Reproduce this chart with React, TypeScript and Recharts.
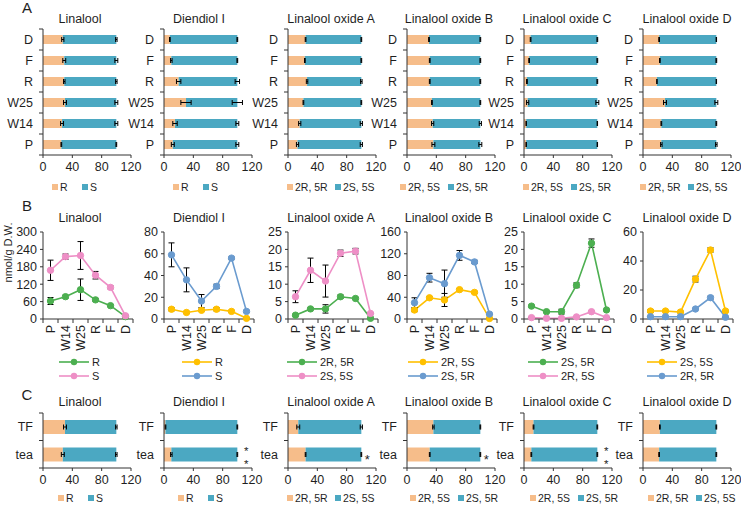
import React from 'react';
import { BarChart, Bar, XAxis, YAxis, ErrorBar, Legend, LineChart, Line, LabelList } from 'recharts';

const FONT = '"Liberation Sans", Arial, Helvetica, sans-serif';
const INK = '#1f1f1f';
const AXIS_C = '#333333';
const PEACH = '#F6BD8A';
const TEAL = '#4BA8C2';
const GREEN = '#4CAF50';
const PINK = '#EE8FC6';
const BLUE = '#6A9BCF';
const YELLOW = '#FFC000';

// ---------------- data ----------------
const compounds = ['Linalool', 'Diendiol I', 'Linalool oxide A', 'Linalool oxide B', 'Linalool oxide C', 'Linalool oxide D'];
const barLegendNames = [['R', 'S'], ['R', 'S'], ['2R, 5R', '2S, 5S'], ['2R, 5S', '2S, 5R'], ['2R, 5S', '2S, 5R'], ['2R, 5R', '2S, 5S']];
const pctTicks = [0, 40, 80, 120];

// Panel A (top to bottom)
const stagesA = ['D', 'F', 'R', 'W25', 'W14', 'P'];
const linA_R = [27, 29, 29, 30, 26, 25];
const linA_S = [73, 71, 71, 70, 74, 75];
const linA_Re = [1.5, 2, 1, 2, 2, 0.5];
const linA_Se = [1, 2, 1, 2, 2, 0.5];
const dieA_R = [8, 10, 20, 30, 15, 12];
const dieA_S = [92, 90, 80, 70, 85, 88];
const dieA_Re = [0.5, 1, 3, 7, 3, 2];
const dieA_Se = [0.5, 0.5, 3, 7, 2, 2];
const loaA_R = [24, 23, 26, 21, 16, 13];
const loaA_S = [76, 77, 74, 79, 84, 87];
const loaA_Re = [0.5, 0.5, 1, 0.5, 1.5, 1.5];
const loaA_Se = [0.5, 0.5, 1, 0.5, 1.5, 1.5];
const lobA_R = [30, 31, 31, 34, 35, 36];
const lobA_S = [70, 69, 69, 66, 65, 64];
const lobA_Re = [0.5, 0.5, 0.5, 0.5, 1.5, 2];
const lobA_Se = [0.5, 0.5, 0.5, 0.5, 1.5, 2];
const locA_R = [9, 7, 4, 5, 3, 3];
const locA_S = [91, 93, 96, 95, 97, 97];
const locA_Re = [0.5, 0.5, 0.5, 1.5, 0.3, 0.3];
const locA_Se = [0.5, 0.5, 0.5, 2, 0.3, 0.3];
const lodA_R = [22, 23, 19, 30, 25, 25];
const lodA_S = [78, 77, 81, 70, 75, 75];
const lodA_Re = [0.5, 0.5, 0.3, 2, 0.5, 1];
const lodA_Se = [0.3, 0.5, 0.3, 2, 0.5, 1];

// Panel B (nmol/g D.W.)
const stagesB = ['P', 'W14', 'W25', 'R', 'F', 'D'];
const lineLegendNames = [['R', 'S'], ['R', 'S'], ['2R, 5R', '2S, 5S'], ['2R, 5S', '2S, 5R'], ['2S, 5R', '2R, 5S'], ['2S, 5S', '2R, 5R']];
const yTicksB = [[0, 60, 120, 180, 240, 300], [0, 20, 40, 60, 80], [0, 5, 10, 15, 20, 25], [0, 40, 80, 120, 160], [0, 5, 10, 15, 20, 25], [0, 20, 40, 60]];
const linB_1 = [62, 77, 101, 66, 46, 8];
const linB_1e = [12, 5, 37, 5, 3, 1];
const linB_2 = [168, 215, 219, 151, 109, 11];
const linB_2e = [35, 9, 48, 13, 5, 1];
const dieB_1 = [9, 6, 8, 9, 7, 0.6];
const dieB_1e = [1.5, 1, 1, 1.5, 1, 0.5];
const dieB_2 = [59, 36, 16.5, 30, 56, 7];
const dieB_2e = [11, 11, 6, 2, 1, 1];
const loaB_1 = [1.1, 2.9, 2.9, 6.4, 5.9, 0.2];
const loaB_1e = [0.3, 0.3, 1.2, 0.5, 0.3, 0.1];
const loaB_2 = [6.4, 14, 10.9, 18.9, 19.5, 1.6];
const loaB_2e = [1.7, 3.5, 4.6, 0.9, 0.8, 0.2];
const lobB_1 = [16.5, 39, 35, 54, 49, 1];
const lobB_1e = [3, 2, 12, 2, 2, 0.5];
const lobB_2 = [30, 76, 65, 117, 105, 9];
const lobB_2e = [9, 8, 25, 9, 3, 1];
const locB_1 = [3.7, 2.1, 2.1, 9.7, 21.8, 2.6];
const locB_1e = [0.3, 0.2, 0.7, 0.7, 1.2, 0.2];
const locB_2 = [0.4, 0.2, 0.2, 0.6, 2.1, 0.4];
const locB_2e = [0.1, 0.1, 0.1, 0.1, 0.2, 0.1];
const lodB_1 = [5.5, 5.5, 4.8, 27.5, 47.6, 5.5];
const lodB_1e = [1, 0.5, 0.5, 2, 1.5, 0.5];
const lodB_2 = [1.6, 1.6, 1.6, 6.9, 14.7, 1.2];
const lodB_2e = [0.3, 0.3, 0.3, 0.5, 1, 0.2];

// Panel C
const samplesC = ['TF', 'tea'];
const linC_R = [30, 27];
const linC_S = [70, 73];
const linC_Re = [2, 2];
const linC_Se = [1, 1];
const dieC_R = [2, 10];
const dieC_S = [98, 90];
const dieC_Re = [0.5, 1];
const dieC_Se = [0.5, 0.5];
const loaC_R = [14, 24];
const loaC_S = [86, 76];
const loaC_Re = [2, 0.5];
const loaC_Se = [1.5, 0.5];
const lobC_R = [36, 31];
const lobC_S = [64, 69];
const lobC_Re = [1, 0.5];
const lobC_Se = [0.5, 0.5];
const locC_R = [13, 10];
const locC_S = [87, 90];
const locC_Re = [0.5, 0.5];
const locC_Se = [0.5, 0.5];
const lodC_R = [23, 22];
const lodC_S = [77, 78];
const lodC_Re = [0.5, 0.5];
const lodC_Se = [0.5, 0.5];
const sigC = [['', ''], ['', '**'], ['', '*'], ['', '*'], ['', '**'], ['', '']];

const A_R = [linA_R, dieA_R, loaA_R, lobA_R, locA_R, lodA_R];
const A_S = [linA_S, dieA_S, loaA_S, lobA_S, locA_S, lodA_S];
const A_Re = [linA_Re, dieA_Re, loaA_Re, lobA_Re, locA_Re, lodA_Re];
const A_Se = [linA_Se, dieA_Se, loaA_Se, lobA_Se, locA_Se, lodA_Se];
const B_1 = [linB_1, dieB_1, loaB_1, lobB_1, locB_1, lodB_1];
const B_1e = [linB_1e, dieB_1e, loaB_1e, lobB_1e, locB_1e, lodB_1e];
const B_2 = [linB_2, dieB_2, loaB_2, lobB_2, locB_2, lodB_2];
const B_2e = [linB_2e, dieB_2e, loaB_2e, lobB_2e, locB_2e, lodB_2e];
const C_R = [linC_R, dieC_R, loaC_R, lobC_R, locC_R, lodC_R];
const C_S = [linC_S, dieC_S, loaC_S, lobC_S, locC_S, lodC_S];
const C_Re = [linC_Re, dieC_Re, loaC_Re, lobC_Re, locC_Re, lodC_Re];
const C_Se = [linC_Se, dieC_Se, loaC_Se, lobC_Se, locC_Se, lodC_Se];
const lineColors = [[GREEN, PINK], [YELLOW, BLUE], [GREEN, PINK], [YELLOW, BLUE], [GREEN, PINK], [YELLOW, BLUE]];

// ---------------- layout ----------------
const AXX = [43, 164, 288, 407, 524, 643];
const TITLE_CX = [80, 199, 331, 449, 567, 687];
const LEG_A_X = [52, 173, 287, 400, 523, 640];
const LEG_B_X = [59, 182, 287, 408, 528, 647];
const LEG_C_X = [58, 178, 287, 410, 530, 648];
const YW = 40;
const PW = 88;
const PWB = 90;
const CAT_M = 10;

const tickFont = { fontSize: 12.5, fill: INK, fontFamily: FONT };

const CatTickY = (props: any) => {
  const { x, y, payload, index, visibleTicksCount, band, margin } = props;
  const ax = x + margin;
  return (
    <g>
      <text x={x} y={y} dy="0.36em" textAnchor="end" fontSize={12.5} fill={INK} fontFamily={FONT}>{payload.value}</text>
      <line x1={ax - 4} x2={ax} y1={y - band / 2} y2={y - band / 2} stroke={AXIS_C} />
      {index === visibleTicksCount - 1 ? <line x1={ax - 4} x2={ax} y1={y + band / 2} y2={y + band / 2} stroke={AXIS_C} /> : null}
    </g>
  );
};

const CatTickX = (props: any) => {
  const { x, y, payload, index, visibleTicksCount, band, margin } = props;
  const ay = y - margin;
  return (
    <g>
      <text x={x} y={y + 1} dy="0.36em" textAnchor="end" transform={`rotate(-90, ${x}, ${y + 1})`} fontSize={12.5} fill={INK} fontFamily={FONT}>{payload.value}</text>
      <line x1={x - band / 2} x2={x - band / 2} y1={ay} y2={ay + 4} stroke={AXIS_C} />
      {index === visibleTicksCount - 1 ? <line x1={x + band / 2} x2={x + band / 2} y1={ay} y2={ay + 4} stroke={AXIS_C} /> : null}
    </g>
  );
};

const ordered = (payload: any[], names: string[]) =>
  [...(payload || [])].sort((p, q) => names.indexOf(String(p.value)) - names.indexOf(String(q.value)));

const makeSquareLegend = (names: string[]) => (props: any) => {
  const items = ordered(props.payload, names);
  return (
    <div style={{ display: 'flex', fontFamily: FONT, fontSize: 10.5, color: INK, lineHeight: '12px', whiteSpace: 'nowrap' }}>
      {items.map((it: any) => (
        <div key={it.value} style={{ display: 'flex', alignItems: 'center', width: String(it.value).length > 1 ? 48 : 30 }}>
          <span style={{ width: 6, height: 6, background: it.color, marginRight: 2, display: 'inline-block' }} />
          <span>{it.value}</span>
        </div>
      ))}
    </div>
  );
};

const makeLineLegend = (names: string[]) => (props: any) => {
  const items = ordered(props.payload, names);
  return (
    <div style={{ fontFamily: FONT, fontSize: 11, color: INK, lineHeight: '14px', whiteSpace: 'nowrap' }}>
      {items.map((it: any) => (
        <div key={it.value} style={{ display: 'flex', alignItems: 'center', height: 14 }}>
          <svg width={30} height={8} style={{ display: 'block' }}>
            <line x1={0} x2={30} y1={4} y2={4} stroke={it.color} strokeWidth={1.6} />
            <circle cx={15} cy={4} r={3.2} fill={it.color} />
          </svg>
          <span style={{ marginLeft: 3 }}>{it.value}</span>
        </div>
      ))}
    </div>
  );
};

const SigLabel = (props: any) => {
  const { x, y, width, height, value } = props;
  if (!value) return null;
  const cy = y + height / 2;
  if (value === '**') {
    const cx = x + width + 9;
    return (
      <text x={cx} y={cy} fontFamily={FONT} fontSize={11.5} fill={INK} textAnchor="middle">
        <tspan x={cx} dy={0}>*</tspan>
        <tspan x={cx} dy={13.5}>*</tspan>
      </text>
    );
  }
  return <text x={x + width + 6} y={cy + 9} fontFamily={FONT} fontSize={13} fill={INK} textAnchor="middle">*</text>;
};

const Title = ({ cx, cy, text }: { cx: number; cy: number; text: string }) => (
  <div style={{ position: 'absolute', left: cx - 70, top: cy - 8, width: 140, textAlign: 'center', fontFamily: FONT, fontSize: 12.5, lineHeight: '16px', color: INK, whiteSpace: 'nowrap' }}>{text}</div>
);

const Letter = ({ x, y, t }: { x: number; y: number; t: string }) => (
  <div style={{ position: 'absolute', left: x - 8, top: y - 9, width: 16, textAlign: 'center', fontFamily: FONT, fontSize: 15, lineHeight: '18px', color: INK }}>{t}</div>
);

function StackedPanel({ i, cats, r, s, re, se, sig, top, plotH, bottomM, barSize, legendX, legendY }: any) {
  const data = cats.map((c: string, k: number) => ({ cat: c, r: r[k], s: s[k], re: re[k], se: se[k], sig: sig ? sig[k] : '' }));
  const left = AXX[i] - YW;
  const mt = 5;
  const height = mt + plotH + 25 + bottomM;
  const band = plotH / cats.length;
  const names = barLegendNames[i];
  return (
    <div style={{ position: 'absolute', left, top: top - mt }}>
      <BarChart width={YW + PW + 14} height={height} data={data} layout="vertical" margin={{ top: mt, right: 14, bottom: bottomM, left: 0 }} barCategoryGap={0}>
        <XAxis type="number" domain={[0, 120]} ticks={pctTicks} tick={tickFont} tickSize={3} tickMargin={4} height={25} stroke={AXIS_C} interval={0} />
        <YAxis type="category" dataKey="cat" width={YW} tickLine={false} tickSize={0} tickMargin={CAT_M} stroke={AXIS_C} interval={0}
          tick={(p: any) => <CatTickY {...p} band={band} margin={CAT_M} />} />
        <Bar dataKey="r" name={names[0]} stackId="a" fill={PEACH} barSize={barSize} isAnimationActive={false}>
          <ErrorBar dataKey="re" direction="x" width={2.5} stroke="#000" strokeWidth={1} />
        </Bar>
        <Bar dataKey="s" name={names[1]} stackId="a" fill={TEAL} barSize={barSize} isAnimationActive={false}>
          <ErrorBar dataKey="se" direction="x" width={2.5} stroke="#000" strokeWidth={1} />
          {sig ? <LabelList dataKey="sig" content={SigLabel} /> : null}
        </Bar>
        <Legend layout="horizontal" verticalAlign="middle" align="center" content={makeSquareLegend(names)}
          wrapperStyle={{ left: legendX - left, top: legendY - (top - mt), width: 'auto', height: 'auto' }} />
      </BarChart>
    </div>
  );
}

function LinePanel({ i }: any) {
  const names = lineLegendNames[i];
  const colors = lineColors[i];
  const a = B_1[i], ae = B_1e[i], b = B_2[i], be = B_2e[i];
  const data = stagesB.map((c, k) => ({ cat: c, a: a[k], ae: ae[k], b: b[k], be: be[k] }));
  const ticks = yTicksB[i];
  const top = 232, mt = 16, plotH = 87, xh = 35, mb = 29;
  const yw = i === 0 ? AXX[0] : YW;
  const left = AXX[i] - yw;
  const band = PWB / stagesB.length;
  const first = i === 0;
  return (
    <div style={{ position: 'absolute', left, top: top - mt }}>
      <LineChart width={yw + PWB + 8} height={mt + plotH + xh + mb} data={data} margin={{ top: mt, right: 8, bottom: mb, left: 0 }}>
        <XAxis dataKey="cat" height={xh} padding={{ left: band / 2, right: band / 2 }} tickLine={false} tickSize={0} tickMargin={5} stroke={AXIS_C} interval={0}
          tick={(p: any) => <CatTickX {...p} band={band} margin={5} />} />
        <YAxis type="number" domain={[ticks[0], ticks[ticks.length - 1]]} ticks={ticks} width={yw} tick={tickFont} tickSize={3} tickMargin={3} stroke={AXIS_C} interval={0}
          label={first ? {
            content: (lp: any) => {
              const vb = lp.viewBox || { x: 0, y: mt, width: yw, height: plotH };
              const tx = vb.x + 12;
              const ty = vb.y + vb.height / 2 - 23;
              return <text x={tx} y={ty} transform={`rotate(-90, ${tx}, ${ty})`} textAnchor="middle" fontFamily={FONT} fontSize={11} fill={INK}>nmol/g D.W.</text>;
            }
          } : undefined} />
        <Line dataKey="a" name={names[0]} stroke={colors[0]} strokeWidth={1.6} dot={{ r: 3.2, fill: colors[0], stroke: colors[0], strokeWidth: 1 }} isAnimationActive={false}>
          <ErrorBar dataKey="ae" direction="y" width={3} stroke="#000" strokeWidth={1} />
        </Line>
        <Line dataKey="b" name={names[1]} stroke={colors[1]} strokeWidth={1.6} dot={{ r: 3.2, fill: colors[1], stroke: colors[1], strokeWidth: 1 }} isAnimationActive={false}>
          <ErrorBar dataKey="be" direction="y" width={3} stroke="#000" strokeWidth={1} />
        </Line>
        <Legend layout="horizontal" verticalAlign="middle" align="center" content={makeLineLegend(names)}
          wrapperStyle={{ left: LEG_B_X[i] - left, top: 355 - (top - mt), width: 'auto', height: 'auto' }} />
      </LineChart>
    </div>
  );
}

export default function App() {
  const idx = [0, 1, 2, 3, 4, 5];
  return (
    <div style={{ position: 'absolute', left: 0, top: 0, width: 741, height: 506, overflow: 'hidden', background: '#fff' }}>
      <Letter x={27} y={8} t="A" />
      <Letter x={27} y={206} t="B" />
      <Letter x={27} y={395} t="C" />
      {idx.map((i) => <Title key={'ta' + i} cx={TITLE_CX[i]} cy={19} text={compounds[i]} />)}
      {idx.map((i) => <Title key={'tb' + i} cx={TITLE_CX[i]} cy={218} text={compounds[i]} />)}
      {idx.map((i) => <Title key={'tc' + i} cx={TITLE_CX[i]} cy={402} text={compounds[i]} />)}
      {idx.map((i) => (
        <StackedPanel key={'a' + i} i={i} cats={stagesA} r={A_R[i]} s={A_S[i]} re={A_Re[i]} se={A_Se[i]}
          top={29} plotH={126} bottomM={19} barSize={9} legendX={LEG_A_X[i]} legendY={181} />
      ))}
      {idx.map((i) => <LinePanel key={'b' + i} i={i} />)}
      {idx.map((i) => (
        <StackedPanel key={'c' + i} i={i} cats={samplesC} r={C_R[i]} s={C_S[i]} re={C_Re[i]} se={C_Se[i]} sig={sigC[i]}
          top={413} plotH={55} bottomM={13} barSize={14} legendX={LEG_C_X[i]} legendY={492} />
      ))}
    </div>
  );
}
